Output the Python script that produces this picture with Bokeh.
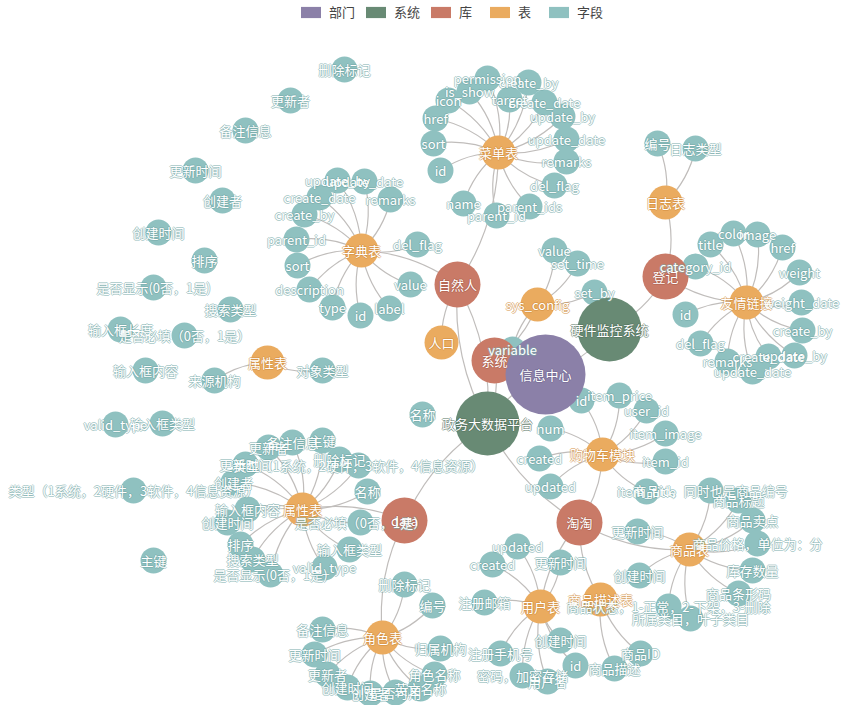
import math
from bokeh.plotting import figure
from bokeh.models import ColumnDataSource, Range1d, Legend, LegendItem
from bokeh.embed import file_html
from bokeh.resources import INLINE
from bokeh.core.properties import value

# ---------------- data ----------------
categories = ["部门", "系统", "库", "表", "字段"]
category_colors = ["#8b80a8", "#688a74", "#c97a67", "#eaab5f", "#8fc1c0"]
category_outline = ["#6f6590", "#4f6d5a", "#a85c4a", "#d08c3e", "#74a8a7"]
category_radius = [40, 32, 23, 17, 13]

# hub nodes (department, systems, libraries, tables)
hub_keys = ["信息中心", "硬件监控系统", "政务大数据平台", "自然人", "系统", "登记", "淘淘", "data",
            "菜单表", "日志表", "字典表", "友情链接", "sys_config", "人口", "属性表1", "属性表2",
            "购物车模块", "商品表", "用户表", "商品描述表", "角色表"]
hub_names = ["信息中心", "硬件监控系统", "政务大数据平台", "自然人", "系统", "登记", "淘淘", "data",
             "菜单表", "日志表", "字典表", "友情链接", "sys_config", "人口", "属性表", "属性表",
             "购物车模块", "商品表", "用户表", "商品描述表", "角色表"]
hub_cats = [0, 1, 1, 2, 2, 2, 2, 2,
            3, 3, 3, 3, 3, 3, 3, 3,
            3, 3, 3, 3, 3]
hub_x = [553, 617, 495, 465, 502, 673, 587, 412,
         506, 673, 369, 754, 545, 449, 275, 310,
         610, 697, 548, 608, 390]
hub_y = [382, 337, 431, 292, 368, 284, 530, 528,
         160, 210, 258, 310, 312, 350, 370, 517,
         462, 557, 614, 607, 645]
hub_parent = ["", "信息中心", "信息中心", "政务大数据平台", "政务大数据平台", "硬件监控系统", "政务大数据平台", "政务大数据平台",
              "自然人", "登记", "自然人", "登记", "系统", "自然人", "", "data",
              "淘淘", "淘淘", "淘淘", "淘淘", "data"]
extra_edge_from = ["自然人"]
extra_edge_to = ["政务大数据平台"]

# fields of 菜单表
menu_fields = ["permission", "create_by", "is_show", "icon", "target", "create_date", "href", "update_by",
               "sort", "update_date", "remarks", "id", "del_flag", "name", "parent_ids", "parent_id"]
menu_x = [495, 536, 477, 456, 517, 552, 443, 570, 441, 574, 574, 448, 562, 471, 537, 504]
menu_y = [86, 90, 99, 108, 107, 110, 126, 124, 151, 147, 169, 178, 193, 211, 214, 223]

# fields of 字典表
dict_fields = ["update_by", "update_date", "create_date", "remarks", "create_by", "parent_id", "del_flag",
               "sort", "description", "type", "id", "label", "value"]
dict_x = [345, 372, 327, 398, 312, 304, 425, 305, 317, 340, 368, 397, 418]
dict_y = [188, 189, 205, 207, 222, 247, 252, 273, 297, 315, 323, 316, 292]

# fields of sys_config
conf_fields = ["value", "set_time", "set_by", "variable"]
conf_x = [562, 585, 602, 520]
conf_y = [258, 271, 300, 357]

# fields of 日志表
log_fields = ["编号", "日志类型"]
log_x = [665, 703]
log_y = [151, 156]

# fields of 友情链接
link_fields = ["title", "color", "image", "href", "category_id", "weight", "weight_date", "id",
               "create_by", "del_flag", "update_by", "create_date", "remarks", "update_date"]
link_x = [718, 741, 765, 790, 703, 807, 809, 693, 810, 708, 802, 776, 735, 760]
link_y = [252, 241, 242, 255, 274, 280, 310, 322, 338, 351, 363, 364, 369, 379]

# fields of 购物车模块
cart_fields = ["id", "item_price", "user_id", "item_image", "num", "created", "item_id", "updated", "item_title"]
cart_x = [589, 627, 654, 673, 558, 547, 673, 558, 654]
cart_y = [408, 403, 418, 441, 436, 466, 469, 494, 499]

# fields of 商品表
item_fields = ["商品id，同时也是商品编号", "商品标题", "商品卖点", "更新时间", "商品价格，单位为：分",
               "库存数量", "创建时间", "商品条形码", "商品状态，1-正常，2-下架，3-删除", "所属类目，叶子类目"]
item_x = [718, 746, 760, 645, 765, 760, 647, 746, 676, 698]
item_y = [498, 508, 528, 539, 551, 578, 583, 601, 614, 626]

# fields of 用户表
user_fields = ["updated", "created", "更新时间", "注册邮箱", "创建时间", "注册手机号", "用户名", "密码，加密存储", "id"]
user_x = [525, 500, 568, 492, 568, 508, 555, 530, 583]
user_y = [554, 572, 570, 610, 648, 661, 689, 683, 673]

# fields of 商品描述表
desc_fields = ["商品ID", "商品描述"]
desc_x = [648, 622]
desc_y = [661, 676]

# fields of 角色表
role_fields = ["删除标记", "编号", "备注信息", "归属机构", "更新时间", "更新者", "角色名称",
               "创建时间", "英文名称", "是否可用", "创建者"]
role_x = [412, 440, 330, 448, 322, 335, 442, 355, 428, 403, 378]
role_y = [592, 613, 637, 656, 662, 682, 682, 695, 696, 700, 701]

# fields of the upper 属性表
attr1_fields = ["来源机构", "对象类型"]
attr1_x = [222, 330]
attr1_y = [388, 378]

# fields of the lower 属性表
attr2_fields = ["更新者", "主键", "备注信息", "删除标记", "更新时间", "创建者", "类型（1系统，2硬件，3软件，4信息资源）",
                "名称", "输入框内容", "创建时间", "是否必填（0否，1是）", "排序", "输入框类型", "搜索类型",
                "valid_type", "是否显示(0否，1是)"]
attr2_x = [276, 330, 300, 347, 253, 241, 366, 375, 255, 235, 368, 248, 357, 260, 332, 278]
attr2_y = [455, 448, 450, 467, 472, 490, 473, 499, 517, 530, 530, 552, 557, 567, 575, 582]

# loose fields (no links)
loose_fields = ["删除标记", "更新者", "备注信息", "更新时间", "创建者", "创建时间", "排序",
                "是否显示(0否，1是)", "搜索类型", "输入框长度", "是否必填（0否，1是）", "输入框内容",
                "valid_type", "输入框类型", "类型（1系统，2硬件，3软件，4信息资源）", "主键", "名称"]
loose_x = [352, 298, 253, 203, 230, 166, 212, 161, 238, 128, 192, 153, 123, 170, 141, 161, 430]
loose_y = [77, 108, 138, 178, 208, 240, 268, 295, 317, 337, 343, 378, 432, 431, 498, 568, 422]

field_groups = [
    ("菜单表", menu_fields, menu_x, menu_y),
    ("字典表", dict_fields, dict_x, dict_y),
    ("sys_config", conf_fields, conf_x, conf_y),
    ("日志表", log_fields, log_x, log_y),
    ("友情链接", link_fields, link_x, link_y),
    ("购物车模块", cart_fields, cart_x, cart_y),
    ("商品表", item_fields, item_x, item_y),
    ("用户表", user_fields, user_x, user_y),
    ("商品描述表", desc_fields, desc_x, desc_y),
    ("角色表", role_fields, role_x, role_y),
    ("属性表1", attr1_fields, attr1_x, attr1_y),
    ("属性表2", attr2_fields, attr2_x, attr2_y),
    ("", loose_fields, loose_x, loose_y),
]

# ---------------- build tables ----------------
pos = {k: (x, y) for k, x, y in zip(hub_keys, hub_x, hub_y)}
edges = []
for k, par in zip(hub_keys, hub_parent):
    if par:
        edges.append((par, k))
for a, b in zip(extra_edge_from, extra_edge_to):
    edges.append((a, b))

n_name, n_x, n_y, n_cat = [], [], [], []
field_edges = []
for par, names, xs, ys in field_groups:
    for nm, x, y in zip(names, xs, ys):
        n_name.append(nm); n_x.append(x); n_y.append(y); n_cat.append(4)
        if par:
            field_edges.append((pos[par], (x, y)))
order = sorted(range(len(hub_keys)), key=lambda i: -hub_cats[i])
for i in order:
    n_name.append(hub_names[i]); n_x.append(hub_x[i]); n_y.append(hub_y[i]); n_cat.append(hub_cats[i])

seg = [(pos[a], pos[b]) for a, b in edges] + field_edges
curveness = 0.15
x0, y0, x1, y1, cx, cy = [], [], [], [], [], []
for (ax, ay), (bx, by) in seg:
    dx, dy = bx - ax, by - ay
    x0.append(ax); y0.append(ay); x1.append(bx); y1.append(by)
    cx.append((ax + bx) / 2 - dy * curveness)
    cy.append((ay + by) / 2 + dx * curveness)
edge_src = ColumnDataSource(dict(x0=x0, y0=y0, x1=x1, y1=y1, cx=cx, cy=cy))

node_src = ColumnDataSource(dict(
    x=n_x, y=n_y, name=n_name,
    size=[2 * category_radius[c] for c in n_cat],
    color=[category_colors[c] for c in n_cat],
    outline=[category_outline[c] for c in n_cat],
))

# ---------------- figure ----------------
W, H = 843, 705
p = figure(width=W, height=H, output_backend="svg", toolbar_location=None,
           x_range=Range1d(8, 8 + W), y_range=Range1d(8 + H, 8),
           min_border=0, outline_line_color=None)
p.axis.visible = False
p.grid.visible = False
p.background_fill_color = "white"

p.quadratic(x0="x0", y0="y0", x1="x1", y1="y1", cx="cx", cy="cy", source=edge_src,
            line_color="#c0bdbb", line_width=1.2)

p.scatter(x="x", y="y", size="size", fill_color="color", line_color=None, source=node_src)

font = value("Noto Sans CJK SC")
offsets = [(-1, 0), (1, 0), (0, -1), (0, 1)]
for dx, dy in offsets:
    p.text(x="x", y="y", text="name", source=node_src, x_offset=dx, y_offset=dy,
           text_align="center", text_baseline="middle", text_font=font,
           text_font_size="13px", text_color="outline", text_alpha=0.55)
p.text(x="x", y="y", text="name", source=node_src,
       text_align="center", text_baseline="middle", text_font=font,
       text_font_size="13px", text_color="white")

# legend: zero-area swatch renderers sitting on a node of each category
items = []
for ci, (name, col) in enumerate(zip(categories, category_colors)):
    k = n_cat.index(ci)
    r = p.quad(left=[n_x[k]], right=[n_x[k]], top=[n_y[k]], bottom=[n_y[k]],
               fill_color=col, line_color=None)
    items.append(LegendItem(label=name, renderers=[r]))
legend = Legend(items=items, orientation="horizontal", location=(298, H - 21),
                glyph_width=25, glyph_height=14, label_standoff=6, spacing=8,
                padding=0, margin=0, border_line_color=None, background_fill_alpha=0,
                label_text_font="Noto Sans CJK SC", label_text_font_size="13px",
                label_text_color="#444444", label_height=14)
p.add_layout(legend)

open("out.html", "w").write(file_html(p, INLINE))
